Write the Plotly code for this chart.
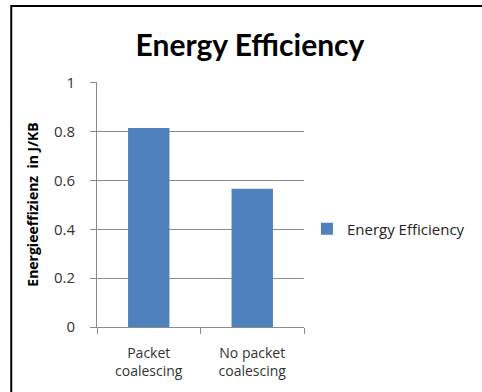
import plotly.graph_objects as go

categories = ["Packet<br>coalescing", "No packet<br>coalescing"]
values = [0.815, 0.566]
series_name = "Energy Efficiency"
y_ticks = [0, 0.2, 0.4, 0.6, 0.8, 1]
y_tick_text = ["0", "0.2", "0.4", "0.6", "0.8", "1"]

W, H = 482, 392
L, R, T, B = 97, 175, 82, 65
pw, ph = W - L - R, H - T - B

fig = go.Figure(go.Bar(
    x=categories, y=values, name=series_name,
    marker=dict(color="#4F81BD", line=dict(width=0)),
    width=0.4, showlegend=True,
))

fig.update_layout(
    width=W, height=H,
    margin=dict(l=L, r=R, t=T, b=B, pad=0),
    paper_bgcolor="white", plot_bgcolor="white",
    font=dict(family="Open Sans, sans-serif", size=12, color="#333333"),
    title=dict(text="<b>Energy Efficiency</b>", x=250 / W, xanchor="center",
               y=1 - 45 / H, yanchor="middle",
               font=dict(family="Lato, sans-serif", size=30, color="black")),
    legend=dict(x=(310 - L) / pw, y=(327 - 229) / ph, xanchor="left", yanchor="middle",
                font=dict(size=15, color="#222222"), itemwidth=30,
                bgcolor="rgba(0,0,0,0)"),
    bargap=0.6,
    xaxis=dict(showline=True, linecolor="#8c8c8c", linewidth=1,
               ticks="outside", ticklen=6, tickcolor="#8c8c8c", tickson="boundaries",
               ticklabelstandoff=13,
               tickfont=dict(size=14, color="#333333")),
    yaxis=dict(range=[0, 1.003], tickvals=y_ticks, ticktext=y_tick_text,
               showline=True, linecolor="#8c8c8c", linewidth=1,
               ticks="outside", ticklen=6, tickcolor="#8c8c8c",
               ticklabelstandoff=12,
               showgrid=True, gridcolor="#8c8c8c", gridwidth=1, zeroline=False,
               tickfont=dict(size=15, color="#333333"),
               title=dict(text="<b>Energieeffizienz  in J/KB</b>", standoff=12,
                          font=dict(size=14, color="black"))),
)

# outer chart frame: left edge and top edge as one open polyline
fx0 = (10 - L) / pw
fx1 = (W + 10 - L) / pw
fy0 = -(H + 10 - 327) / ph
fy1 = (327 - 6) / ph
fig.add_shape(type="path", xref="paper", yref="paper",
              path=f"M {fx0},{fy0} L {fx0},{fy1} L {fx1},{fy1}",
              line=dict(color="black", width=2), fillcolor="rgba(0,0,0,0)",
              layer="above")

fig.write_html("out.html")
